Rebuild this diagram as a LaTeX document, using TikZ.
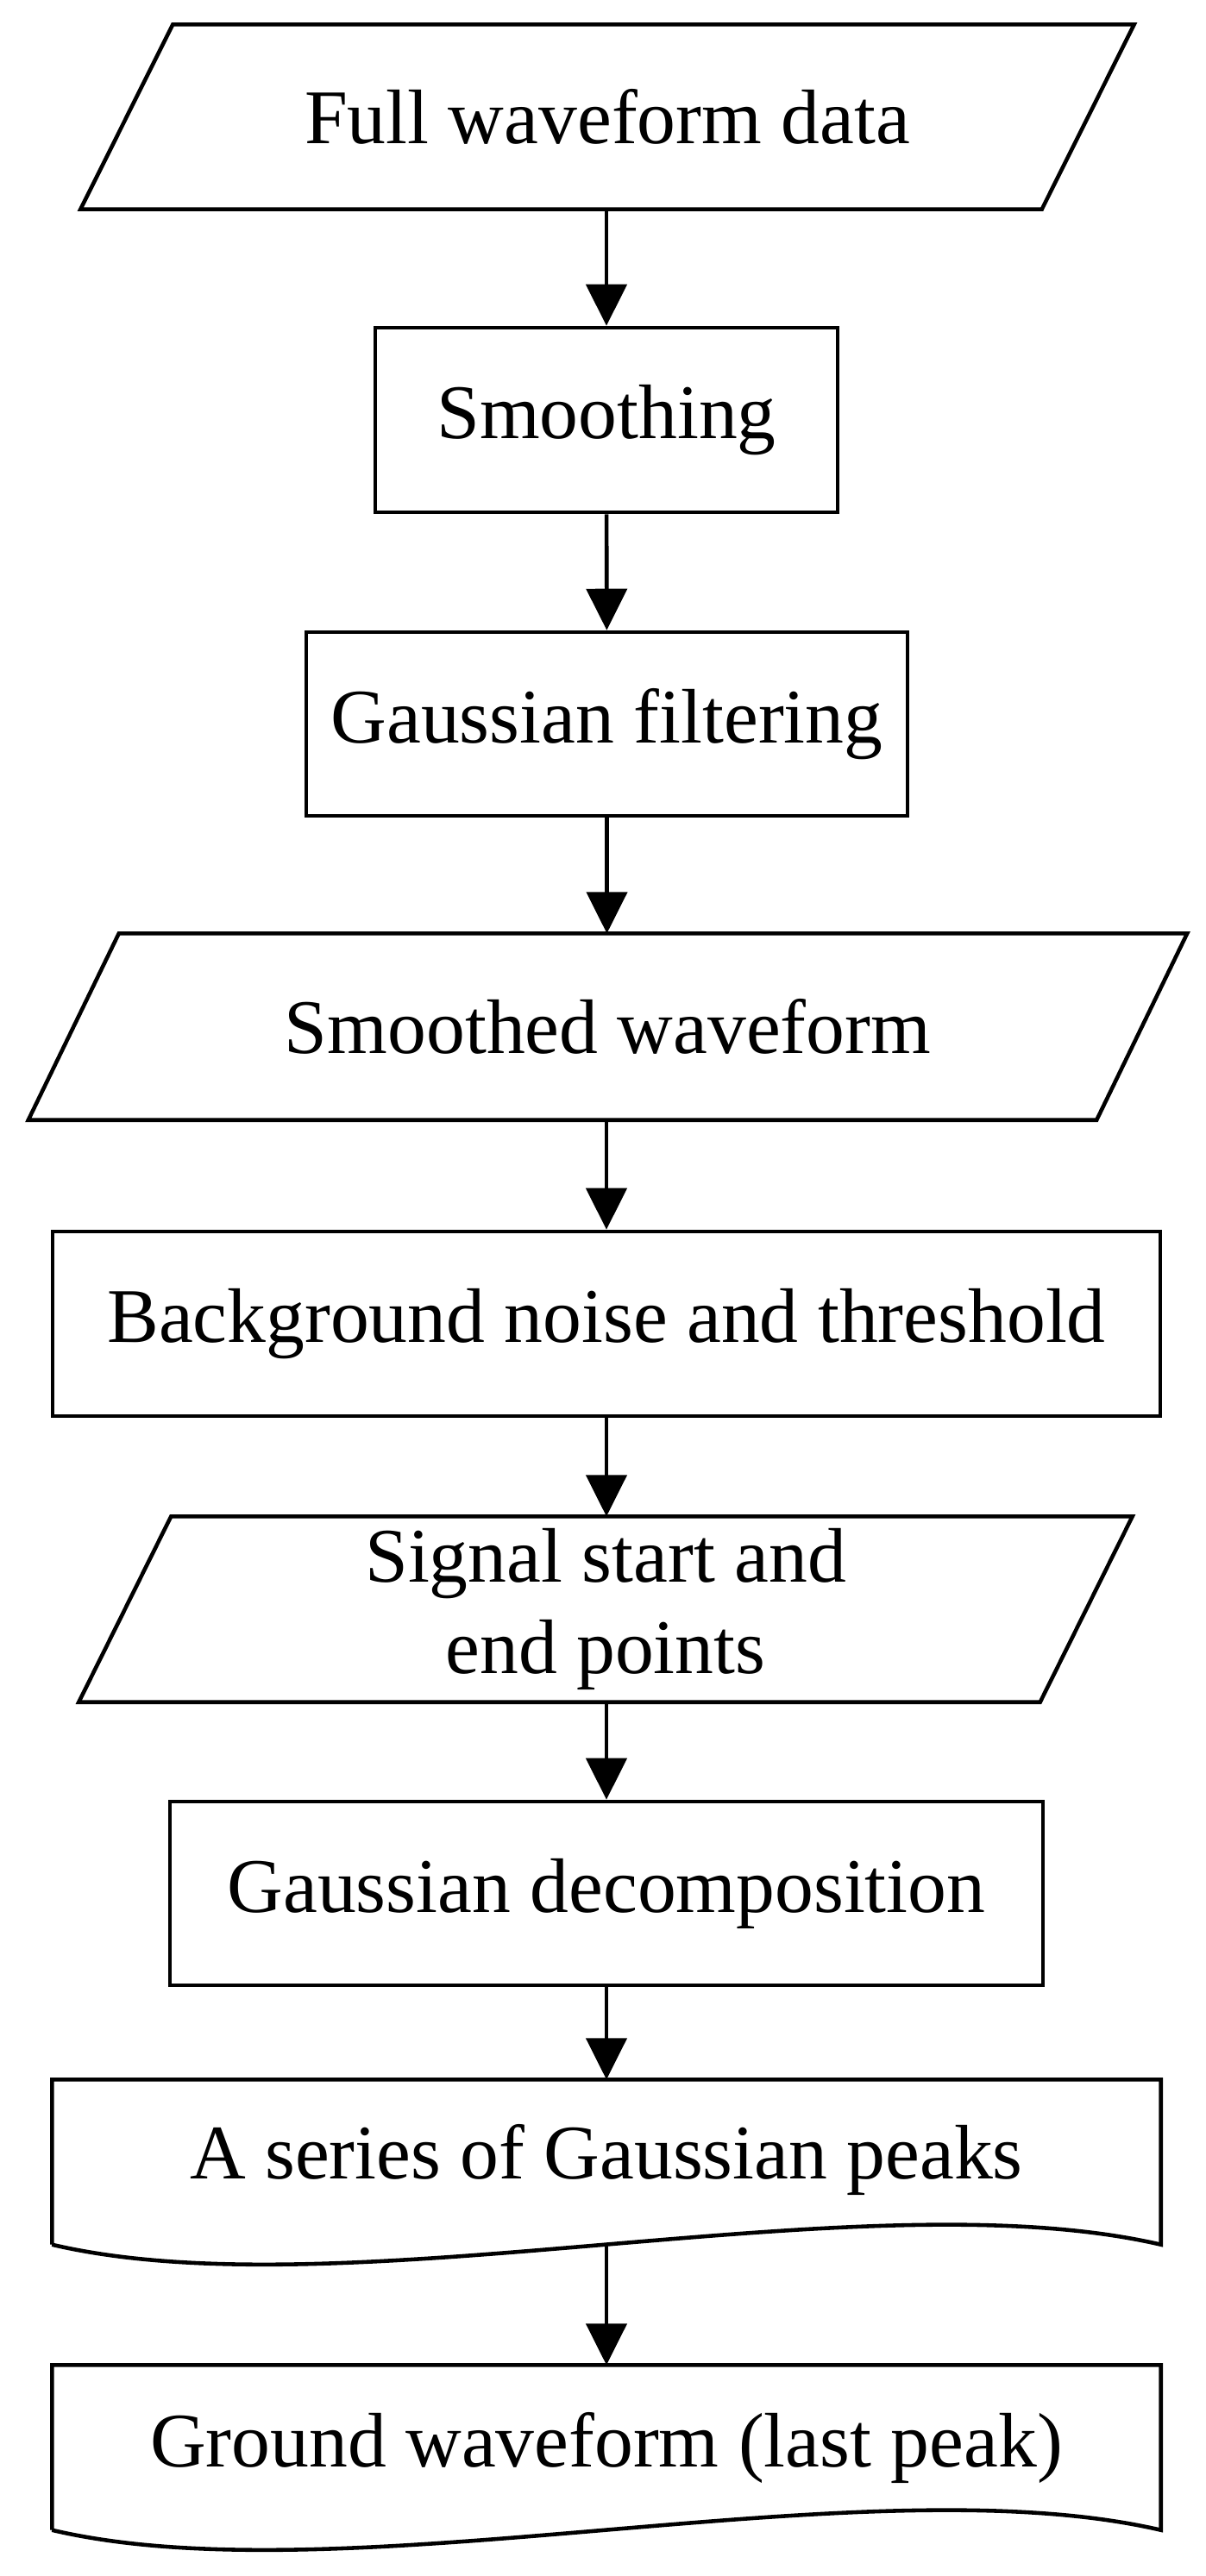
\documentclass[tikz,border=0pt]{standalone}
\usepackage{fontspec}
\setmainfont{Liberation Serif}
\usetikzlibrary{arrows.meta}

\tikzset{
  box/.style={draw, line width=1.3pt, inner sep=0pt, align=center},
  io/.style={inner sep=0pt, align=center},
  doc/.style={inner sep=0pt, align=center},
  arr/.style={-{Triangle[width=0.47cm,length=0.48cm]}, line width=1.3pt}
}
\newcommand{\ioshape}[2]{\draw[line width=1.3pt] ([xshift=#2]#1.north west) -- ([xshift=#2]#1.north east) -- ([xshift=-#2]#1.south east) -- ([xshift=-#2]#1.south west) -- cycle;}
\newcommand{\docshape}[1]{\draw[line width=1.3pt] (#1.south west) -- (#1.north west) -- (#1.north east) -- (#1.south east) .. controls ([xshift=-3.45cm,yshift=0.8cm]#1.south east) and ([xshift=3.4cm,yshift=-0.8cm]#1.south west) .. (#1.south west);}

\begin{document}
\begin{tikzpicture}[font=\fontsize{25.5}{30}\selectfont]
\useasboundingbox (0,0) rectangle (13.98,-29.87);
% nodes
\node[io, minimum width=11.13cm, minimum height=2.13cm] (data) at (7.04,-1.355) {Full waveform data};
\node[box, minimum width=5.36cm, minimum height=2.14cm] (smooth) at (7.03,-4.87) {Smoothing};
\node[box, minimum width=6.97cm, minimum height=2.13cm] (filter) at (7.035,-8.395) {Gaussian filtering};
\node[io, minimum width=12.37cm, minimum height=2.15cm] (smoothed) at (7.045,-11.905) {Smoothed waveform};
\node[box, minimum width=12.84cm, minimum height=2.14cm] (noise) at (7.03,-15.35) {Background noise and threshold};
\node[io, minimum width=11.13cm, minimum height=2.14cm] (signal) at (7.02,-18.66) {Signal start and\\end points};
\node[box, minimum width=10.12cm, minimum height=2.13cm] (decomp) at (7.03,-21.955) {Gaussian decomposition};
\node[doc, minimum width=12.84cm, minimum height=1.90cm] (peaks) at (7.03,-25.07) {\raisebox{0.25cm}{A series of Gaussian peaks}};
\node[doc, minimum width=12.84cm, minimum height=1.90cm] (ground) at (7.03,-28.38) {\raisebox{0.1cm}{Ground waveform (last peak)}};
% outlines
\ioshape{data}{0.535cm}
\ioshape{smoothed}{0.525cm}
\ioshape{signal}{0.535cm}
\docshape{peaks}
\docshape{ground}
% arrows
\draw[arr] (data.south -| smooth.north) -- (smooth.north);
\draw[arr] (smooth) -- (filter);
\draw[arr] (filter.south) -- (smoothed.north -| filter.south);
\draw[arr] (smoothed.south -| noise.north) -- (noise.north);
\draw[arr] (noise.south) -- (signal.north -| noise.south);
\draw[arr] (signal.south -| decomp.north) -- (decomp.north);
\draw[arr] (decomp) -- (peaks);
\draw[arr] (peaks.south) -- (ground.north);
\end{tikzpicture}
\end{document}
